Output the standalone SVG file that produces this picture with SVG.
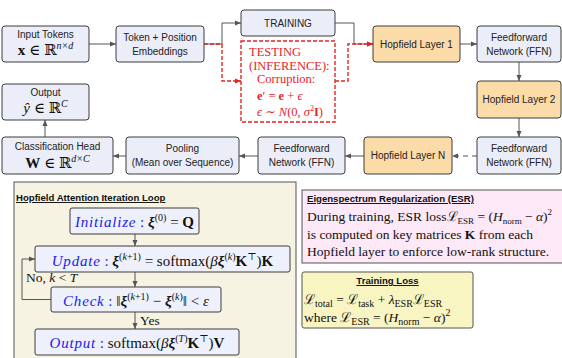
<svg xmlns="http://www.w3.org/2000/svg" width="562" height="358" viewBox="0 0 562 358">
<defs>
<marker id="ah" viewBox="0 0 6 6" refX="6" refY="3" markerWidth="6" markerHeight="6" orient="auto" markerUnits="userSpaceOnUse"><path d="M0,0.5 L6,3 L0,5.5 z" fill="#555"/></marker>
<marker id="ahr" viewBox="0 0 6 6" refX="6" refY="3" markerWidth="6" markerHeight="6" orient="auto" markerUnits="userSpaceOnUse"><path d="M0,0.5 L6,3 L0,5.5 z" fill="#e8231f"/></marker>
<style>
.box{fill:#ebedf8;stroke:#3c3c3c;stroke-width:1}
.hop{fill:#fbdba8;stroke:#3c3c3c;stroke-width:1}
.lbl{font-family:"Liberation Sans",Arial,sans-serif;font-size:10px;fill:#222;text-anchor:middle}
.m{font-family:"Liberation Serif","DejaVu Serif",serif;fill:#111}
.con{fill:none;stroke:#555;stroke-width:1}
.red{fill:none;stroke:#e8231f;stroke-width:1.4;stroke-dasharray:4 2}
.rt{font-family:"Liberation Serif","DejaVu Serif",serif;font-size:12.5px;fill:#e8231f}
.ttl{font-family:"Liberation Sans",Arial,sans-serif;font-size:9.6px;font-weight:bold;fill:#111;text-decoration:underline}
.ib{fill:#eef0fb;stroke:#3c3c3c;stroke-width:1}
.bl{fill:#1a1aee;font-style:italic}
.body{font-family:"Liberation Serif","DejaVu Serif",serif;font-size:13.5px;fill:#111}
</style>
</defs>

<g id="connectors">
<path class="con" d="M89,44 H116" marker-end="url(#ah)"/>
<path class="con" d="M204,44 H222 V23 H241" marker-end="url(#ah)"/>
<path class="red" d="M204,44 H222 V81 H241" marker-end="url(#ahr)"/>
<path class="con" d="M335,23 H354 V44 H373" marker-end="url(#ah)"/>
<path class="red" d="M335,81 H348 V44 H373" marker-end="url(#ahr)"/>
<path class="con" d="M460,44 H477" marker-end="url(#ah)"/>
<path class="con" d="M519,62 V81" marker-end="url(#ah)"/>
<path class="con" d="M519,118 V137" marker-end="url(#ah)"/>
<path class="con" d="M477,156 H452" stroke-dasharray="5 4" marker-end="url(#ah)"/>
<path class="con" d="M364,156 H345" marker-end="url(#ah)"/>
<path class="con" d="M258,156 H239" marker-end="url(#ah)"/>
<path class="con" d="M126,156 H113" marker-end="url(#ah)"/>
<path class="con" d="M45,137 V120" marker-end="url(#ah)"/>
</g>

<g id="input-tokens">
<rect class="box" x="2" y="26" width="87" height="36" rx="3"/>
<text class="lbl" x="45.5" y="38">Input Tokens</text>
<text class="m" x="45.5" y="55" font-size="15" text-anchor="middle"><tspan font-weight="bold">x</tspan> ∈ ℝ<tspan font-size="10" font-style="italic" dy="-6">n×d</tspan></text>
</g>

<g id="embeddings">
<rect class="box" x="116" y="26" width="88" height="36" rx="3"/>
<text class="lbl" x="160" y="41">Token + Position</text>
<text class="lbl" x="160" y="55">Embeddings</text>
</g>

<g id="training">
<rect class="box" x="241" y="10" width="94" height="26" rx="3"/>
<text class="lbl" x="288" y="27" font-size="9.6">TRAINING</text>
</g>

<g id="testing">
<rect x="241" y="41" width="94" height="81" fill="#fff" stroke="#e8231f" stroke-width="1.4" stroke-dasharray="4 2"/>
<text class="rt" x="249" y="56">TESTING</text>
<text class="rt" x="249" y="70">(INFERENCE):</text>
<text class="rt" x="257" y="83">Corruption:</text>
<text class="rt" x="257" y="100"><tspan font-weight="bold">e</tspan>′ = <tspan font-weight="bold">e</tspan> + <tspan font-style="italic">ϵ</tspan></text>
<text class="rt" x="257" y="116"><tspan font-style="italic">ϵ</tspan> ∼ <tspan font-style="italic">N</tspan>(0, <tspan font-style="italic">σ</tspan><tspan font-size="8" dy="-5">2</tspan><tspan dy="5" font-weight="bold">I</tspan>)</text>
</g>

<g id="hopfield-1">
<rect class="hop" x="373" y="26" width="87" height="36" rx="3"/>
<text class="lbl" x="416.5" y="48">Hopfield Layer 1</text>
</g>

<g id="ffn-1">
<rect class="box" x="477" y="26" width="84" height="36" rx="3"/>
<text class="lbl" x="519" y="41">Feedforward</text>
<text class="lbl" x="519" y="55">Network (FFN)</text>
</g>

<g id="hopfield-2">
<rect class="hop" x="477" y="81" width="84" height="37" rx="3"/>
<text class="lbl" x="519" y="103">Hopfield Layer 2</text>
</g>

<g id="ffn-2">
<rect class="box" x="477" y="137" width="84" height="37" rx="3"/>
<text class="lbl" x="519" y="152">Feedforward</text>
<text class="lbl" x="519" y="166">Network (FFN)</text>
</g>

<g id="hopfield-n">
<rect class="hop" x="364" y="137" width="88" height="37" rx="3"/>
<text class="lbl" x="408" y="159">Hopfield Layer N</text>
</g>

<g id="ffn-3">
<rect class="box" x="258" y="137" width="87" height="37" rx="3"/>
<text class="lbl" x="301.5" y="152">Feedforward</text>
<text class="lbl" x="301.5" y="166">Network (FFN)</text>
</g>

<g id="pooling">
<rect class="box" x="126" y="137" width="113" height="37" rx="3"/>
<text class="lbl" x="182.5" y="152">Pooling</text>
<text class="lbl" x="182.5" y="166">(Mean over Sequence)</text>
</g>

<g id="classification-head">
<rect class="box" x="2" y="137" width="111" height="37" rx="3"/>
<text class="lbl" x="57.5" y="150">Classification Head</text>
<text class="m" x="57.5" y="168" font-size="15" text-anchor="middle"><tspan font-weight="bold">W</tspan> ∈ ℝ<tspan font-size="10" font-style="italic" dy="-6">d×C</tspan></text>
</g>

<g id="output">
<rect class="box" x="2" y="84" width="87" height="36" rx="3"/>
<text class="lbl" x="45.5" y="96">Output</text>
<text class="m" x="45.5" y="113" font-size="15" text-anchor="middle"><tspan font-style="italic">ŷ</tspan> ∈ ℝ<tspan font-size="10" font-style="italic" dy="-6">C</tspan></text>
</g>

<g id="loop-panel">
<rect x="14" y="182" width="282" height="182" fill="#f6f3e3" stroke="#555" stroke-width="1"/>
<text class="ttl" x="16" y="201">Hopfield Attention Iteration Loop</text>
</g>

<g id="loop-connectors">
<path class="con" d="M135,234 V246" marker-end="url(#ah)"/>
<path class="con" d="M135,272 V287" marker-end="url(#ah)"/>
<path class="con" d="M135,312 V329" marker-end="url(#ah)"/>
<path class="con" d="M51,299.5 H22 V259 H35" marker-end="url(#ah)"/>
<text class="m" x="26" y="282" font-size="13.5">No, <tspan font-style="italic">k</tspan> &lt; <tspan font-style="italic">T</tspan></text>
<text class="m" x="140" y="325" font-size="13.5">Yes</text>
</g>

<g id="initialize">
<rect class="ib" x="70" y="208" width="129" height="26" rx="2"/>
<text class="m" x="134.5" y="227" font-size="15" text-anchor="middle"><tspan class="bl" letter-spacing="0.8">Initialize</tspan><tspan fill="#1a1aee"> : </tspan><tspan font-style="italic" font-weight="bold">ξ</tspan><tspan font-size="10" dy="-6">(0)</tspan><tspan dy="6"> = </tspan><tspan font-weight="bold">Q</tspan></text>
</g>

<g id="update">
<rect class="ib" x="35" y="246" width="255" height="26" rx="2"/>
<text class="m" x="162.5" y="266" font-size="15" text-anchor="middle"><tspan class="bl" letter-spacing="0.8">Update</tspan><tspan fill="#1a1aee"> : </tspan><tspan font-style="italic" font-weight="bold">ξ</tspan><tspan font-size="10" dy="-6">(<tspan font-style="italic">k</tspan>+1)</tspan><tspan dy="6"> = softmax(</tspan><tspan font-style="italic">β</tspan><tspan font-style="italic" font-weight="bold">ξ</tspan><tspan font-size="10" dy="-6">(<tspan font-style="italic">k</tspan>)</tspan><tspan dy="6" font-weight="bold">K</tspan><tspan font-size="10" dy="-6">⊤</tspan><tspan dy="6">)</tspan><tspan font-weight="bold">K</tspan></text>
</g>

<g id="check">
<rect class="ib" x="51" y="287" width="170" height="25" rx="2"/>
<text class="m" x="136" y="306" font-size="15" text-anchor="middle"><tspan class="bl" letter-spacing="0.8">Check</tspan><tspan fill="#1a1aee"> : </tspan>‖<tspan font-style="italic" font-weight="bold">ξ</tspan><tspan font-size="10" dy="-6">(<tspan font-style="italic">k</tspan>+1)</tspan><tspan dy="6"> − </tspan><tspan font-style="italic" font-weight="bold">ξ</tspan><tspan font-size="10" dy="-6">(<tspan font-style="italic">k</tspan>)</tspan><tspan dy="6">‖ &lt; </tspan><tspan font-style="italic">ε</tspan></text>
</g>

<g id="output-step">
<rect class="ib" x="35" y="329" width="204" height="26" rx="2"/>
<text class="m" x="137" y="348" font-size="15" text-anchor="middle"><tspan class="bl" letter-spacing="0.8">Output</tspan><tspan fill="#1a1aee"> : </tspan><tspan>softmax(</tspan><tspan font-style="italic">β</tspan><tspan font-style="italic" font-weight="bold">ξ</tspan><tspan font-size="10" dy="-6">(<tspan font-style="italic">T</tspan>)</tspan><tspan dy="6" font-weight="bold">K</tspan><tspan font-size="10" dy="-6">⊤</tspan><tspan dy="6">)</tspan><tspan font-weight="bold">V</tspan></text>
</g>

<g id="esr">
<rect x="302" y="190" width="270" height="73" fill="#fce8f6" stroke="#555" stroke-width="1"/>
<text class="ttl" x="307" y="202">Eigenspectrum Regularization (ESR)</text>
<text class="body" x="307" y="221">During training, ESR loss<tspan>ℒ</tspan><tspan font-size="9" dy="3">ESR</tspan><tspan dy="-3"> = (</tspan><tspan font-style="italic">H</tspan><tspan font-size="9" dy="3">norm</tspan><tspan dy="-3"> − </tspan><tspan font-style="italic">α</tspan>)<tspan font-size="9" dy="-6">2</tspan></text>
<text class="body" x="307" y="239">is computed on key matrices <tspan font-weight="bold">K</tspan> from each</text>
<text class="body" x="307" y="256">Hopfield layer to enforce low-rank structure.</text>
</g>

<g id="training-loss">
<rect x="302" y="272" width="171" height="56" fill="#f8f5c3" stroke="#555" stroke-width="1" rx="2"/>
<text class="ttl" x="387.5" y="284" text-anchor="middle">Training Loss</text>
<text class="body" x="304" y="304" font-size="15"><tspan>ℒ</tspan><tspan font-size="10" dy="3">total</tspan><tspan dy="-3"> = </tspan><tspan>ℒ</tspan><tspan font-size="10" dy="3">task</tspan><tspan dy="-3"> + </tspan><tspan font-style="italic">λ</tspan><tspan font-size="10" dy="3">ESR</tspan><tspan dy="-3">ℒ</tspan><tspan font-size="10" dy="3">ESR</tspan></text>
<text class="body" x="304" y="322" font-size="15">where <tspan>ℒ</tspan><tspan font-size="10" dy="3">ESR</tspan><tspan dy="-3"> = (</tspan><tspan font-style="italic">H</tspan><tspan font-size="10" dy="3">norm</tspan><tspan dy="-3"> − </tspan><tspan font-style="italic">α</tspan>)<tspan font-size="10" dy="-6">2</tspan></text>
</g>
</svg>
